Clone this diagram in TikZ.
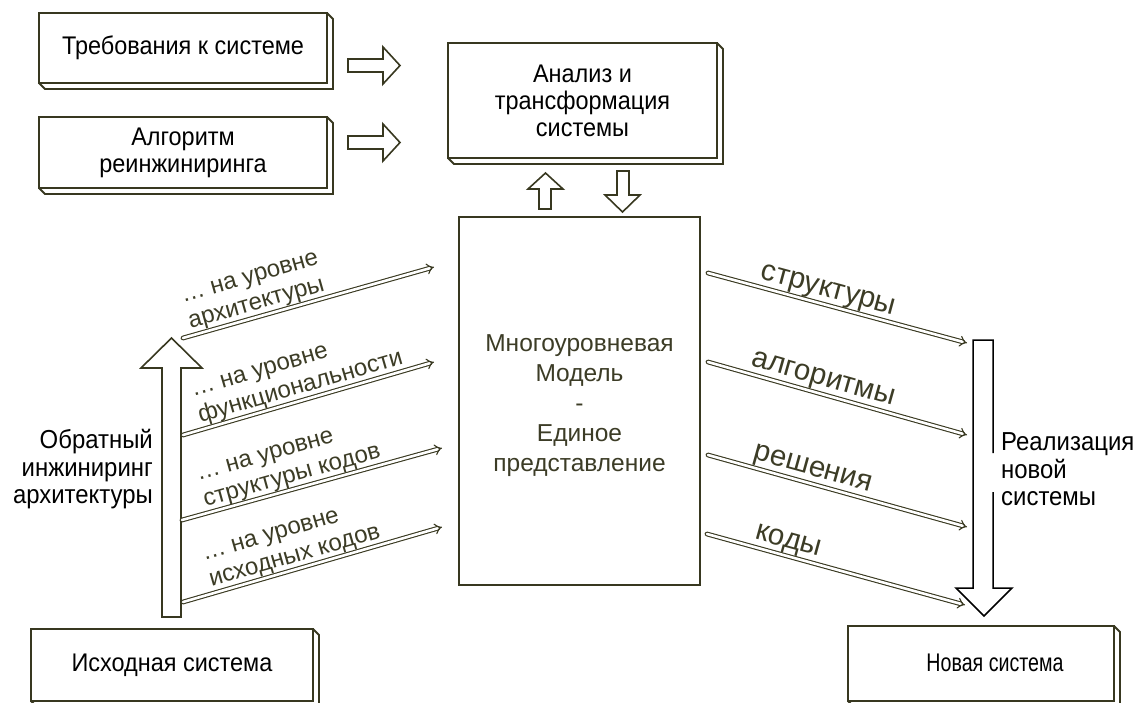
\documentclass[tikz,border=0pt]{standalone}
\usepackage{fontspec}
\setmainfont{Liberation Sans}
\newfontfamily\narrowsans{Liberation Sans}[FakeStretch=0.92]
\newfontfamily\condsans{Liberation Sans}[FakeStretch=0.77]
\usetikzlibrary{arrows.meta,calc}
\definecolor{lineolive}{RGB}{56,56,32}
\definecolor{textolive}{RGB}{60,60,38}
\newcommand\bxfont{\narrowsans\fontsize{25.5}{27}\selectfont}
\newcommand\nsfont{\condsans\fontsize{25.5}{27}\selectfont}
\newcommand\mdlfont{\fontsize{24.5}{30}\selectfont}
\newcommand\lvlfont{\fontsize{24}{27}\selectfont}
\newcommand\outfont{\fontsize{29.5}{34}\selectfont}
\newcommand\sidefont{\narrowsans\fontsize{26}{27.5}\selectfont}
% 3D edge of a system box: right and bottom faces
\newcommand\drawbevel[1]{\draw[bevelline] (#1.north east) -- ++(6,6) |- ($(#1.south west)+(6,6)$) -- (#1.south west);}

\begin{document}
\begin{tikzpicture}[x=1pt,y=-1pt,
  sysbox/.style={draw=lineolive, line width=1.8pt, fill=white, inner sep=0pt, outer sep=0pt,
    align=center, font=\bxfont, text=black},
  bevelline/.style={draw=lineolive, line width=1.8pt, line join=miter},
  modelbox/.style={draw=lineolive, line width=2.2pt, fill=white, inner sep=0pt, outer sep=0pt,
    minimum width=241, minimum height=368, align=center, font=\mdlfont, text=textolive},
  blockarrow/.style={draw=lineolive, line width=1.6pt, fill=white, line join=miter},
  bigdown/.style={draw=black, line width=1.5pt, line join=miter},
  lvlarrow/.style={draw=lineolive, line width=1.1pt, double=white, double distance=2.6pt,
    line cap=round, -{Implies[scale=1.35]}},
  lvllabel/.style={sloped, anchor=south west, inner sep=1.5pt, align=left, font=\lvlfont, text=textolive},
  outlabel/.style={sloped, anchor=south, inner sep=1.5pt, font=\outfont, text=textolive},
  sidetext/.style={inner sep=0pt, font=\sidefont, text=black}
]
\useasboundingbox (0,0) rectangle (1142,702);
\clip (0,0) rectangle (1142,702);

% input boxes
\node[sysbox, minimum width=288, minimum height=70] (req) at (183,48) {Требования к системе};
\drawbevel{req}
\node[sysbox, minimum width=288, minimum height=71] (alg) at (183,152.5) {Алгоритм\\реинжиниринга};
\drawbevel{alg}
\node[sysbox, minimum width=269, minimum height=115] (anal) at (582.5,100.5) {Анализ и\\трансформация\\системы};
\drawbevel{anal}

% central model (the strut on the first line lowers the block a little)
\node[modelbox] (model) at (579.5,401) {\rule{0pt}{26pt}Многоуровневая\\Модель\\-\\Единое\\представление};

% source and target systems
\node[sysbox, minimum width=282, minimum height=72] (src) at (172,665) {Исходная система};
\drawbevel{src}
\node[sysbox, minimum width=266, minimum height=75] (newsys) at (981,663.5) {};
\drawbevel{newsys}
\node[inner sep=0pt, font=\nsfont, text=black] (newsyslabel) at (995,663) {Новая система};

% block arrows into the analysis box
\draw[blockarrow] (348,59) -- (383,59) -- (383,47) -- (400,65.5) -- (383,84) -- (383,72) -- (348,72) -- cycle;
\draw[blockarrow] (348,136) -- (383,136) -- (383,124) -- (400,142.5) -- (383,161) -- (383,149) -- (348,149) -- cycle;
% exchange between the model and the analysis box
\draw[blockarrow] (539,209) -- (539,189) -- (528,189) -- (545.5,173) -- (563,189) -- (551,189) -- (551,209) -- cycle;
\draw[blockarrow] (617,171) -- (629,171) -- (629,195) -- (640,195) -- (622.5,212) -- (605,195) -- (617,195) -- cycle;

% reverse engineering arrow
\draw[blockarrow] (162,617) -- (162,368) -- (141,368) -- (171.5,338) -- (202,368) -- (181,368) -- (181,617) -- cycle;
\node[sidetext, align=right, anchor=east] (revtext) at (153,469.5) {Обратный\\инжиниринг\\архитектуры};

% implementation arrow
\draw[bigdown] (993,453) -- (993,340) -- (973,340) -- (973,588) -- (956,588) -- (984,616) -- (1012,588) -- (993,588) -- (993,492);
\node[sidetext, align=left, anchor=west] (impltext) at (1001,469.5) {Реализация\\новой\\системы};

% levels of extraction
\coordinate (l1a) at (183,338); \coordinate (l1b) at (434,267);
\coordinate (l2a) at (183,435); \coordinate (l2b) at (434,362);
\coordinate (l3a) at (182,520); \coordinate (l3b) at (442,448);
\coordinate (l4a) at (183,602); \coordinate (l4b) at (442,527);
\draw[lvlarrow] (l1a) -- node[lvllabel, pos=0.03] {… на уровне\\архитектуры} (l1b);
\draw[lvlarrow] (l2a) -- node[lvllabel, pos=0.07] {… на уровне\\функциональности} (l2b);
\draw[lvlarrow] (l3a) -- node[lvllabel, pos=0.09] {… на уровне\\структуры кодов} (l3b);
\draw[lvlarrow] (l4a) -- node[lvllabel, pos=0.11] {… на уровне\\исходных кодов} (l4b);

% generation of the new system
\coordinate (o1a) at (708,273); \coordinate (o1b) at (967,343);
\coordinate (o2a) at (708,362); \coordinate (o2b) at (967,435);
\coordinate (o3a) at (708,455); \coordinate (o3b) at (967,527);
\coordinate (o4a) at (707,534); \coordinate (o4b) at (965,605);
\draw[lvlarrow] (o1a) -- node[outlabel, pos=0.45] {структуры} (o1b);
\draw[lvlarrow] (o2a) -- node[outlabel, pos=0.43] {алгоритмы} (o2b);
\draw[lvlarrow] (o3a) -- node[outlabel, pos=0.39] {решения} (o3b);
\draw[lvlarrow] (o4a) -- node[outlabel, pos=0.30] {коды} (o4b);
\end{tikzpicture}
\end{document}
